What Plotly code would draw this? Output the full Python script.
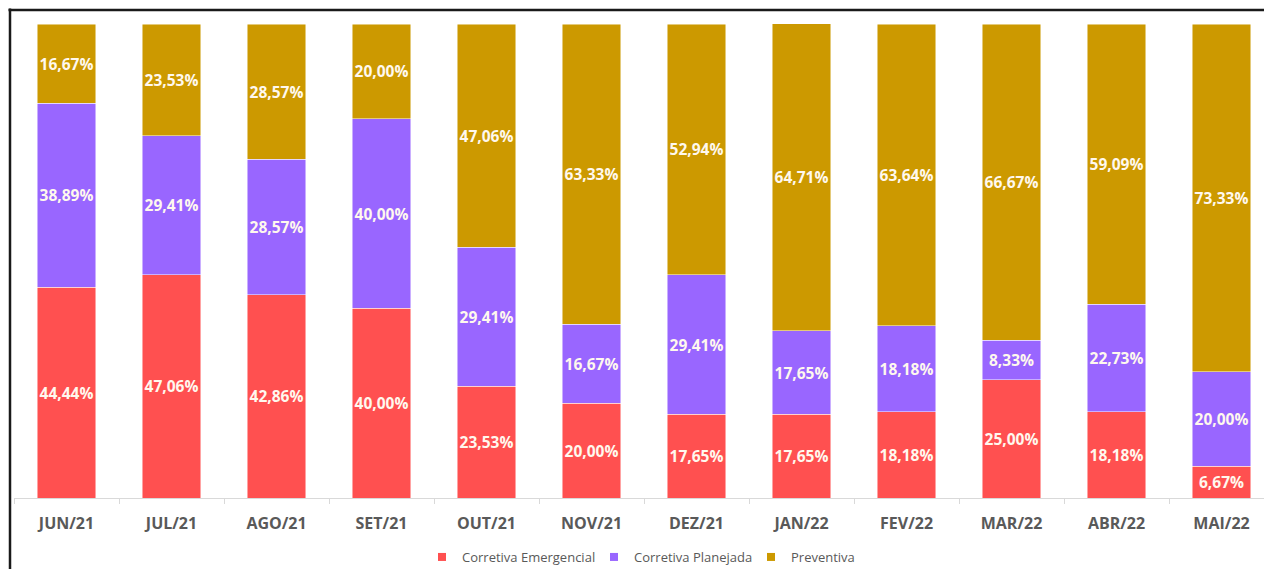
import plotly.graph_objects as go

months = ["JUN/21", "JUL/21", "AGO/21", "SET/21", "OUT/21", "NOV/21",
          "DEZ/21", "JAN/22", "FEV/22", "MAR/22", "ABR/22", "MAI/22"]
emergencial = [44.44, 47.06, 42.86, 40.00, 23.53, 20.00, 17.65, 17.65, 18.18, 25.00, 18.18, 6.67]
planejada = [38.89, 29.41, 28.57, 40.00, 29.41, 16.67, 29.41, 17.65, 18.18, 8.33, 22.73, 20.00]
preventiva = [16.67, 23.53, 28.57, 20.00, 47.06, 63.33, 52.94, 64.71, 63.64, 66.67, 59.09, 73.33]

series = [
    ("Corretiva Emergencial", emergencial, "#FF5050"),
    ("Corretiva Planejada", planejada, "#9966FF"),
    ("Preventiva", preventiva, "#CC9900"),
]

def fmt(v):
    return f"{v:.2f}".replace(".", ",") + "%"

PL, PW, PT, PB = 14, 1250, 24, 498  # plot-area pixel frame

def px_x(p):
    return (p - PL) / PW

def px_y(p):
    return (PB - p) / (PB - PT)

fig = go.Figure()
for name, vals, color in series:
    fig.add_trace(go.Bar(
        name=name, x=months, y=vals, showlegend=False,
        marker=dict(color=color, line=dict(color="rgba(255,255,255,0.6)", width=0.8)),
        text=[fmt(v) for v in vals],
        textposition="inside", insidetextanchor="middle", textangle=0,
        constraintext="none",
        textfont=dict(family="Open Sans", size=15.5, color="#FFF8EE", weight="bold"),
        width=0.56,
    ))

# one legend per entry so each swatch/text pair can sit where the reference has it
legend_ids = ["legend", "legend2", "legend3"]
legend_left_px = [422, 594, 751]
for (name, vals, color), lid in zip(series, legend_ids):
    fig.add_trace(go.Scatter(
        name=name, x=[None], y=[None], mode="markers",
        marker=dict(symbol="square", size=8, color=color),
        showlegend=True, hoverinfo="skip", legend=lid,
    ))

legend_common = dict(orientation="h", xanchor="left", yanchor="middle", y=px_y(557),
                     font=dict(family="Open Sans", size=13, color="#595959"),
                     itemwidth=30, bgcolor="rgba(0,0,0,0)")
layout_legends = {lid: dict(legend_common, x=px_x(lx)) for lid, lx in zip(legend_ids, legend_left_px)}

fig.update_layout(
    barmode="stack",
    width=1264, height=569,
    margin=dict(l=PL, r=0, t=PT, b=569 - PB, autoexpand=False),
    paper_bgcolor="white", plot_bgcolor="white",
    showlegend=True,
    xaxis=dict(range=[-0.5, -0.5 + PW / 105], showline=True, linecolor="#D9D9D9", linewidth=1,
               ticks="outside", tickson="boundaries", ticklen=5, tickcolor="#D9D9D9",
               tickfont=dict(family="Open Sans", size=16, color="#595959", weight="bold"),
               ticklabelstandoff=11, showgrid=False, fixedrange=True, automargin=False),
    yaxis=dict(range=[0, 100], visible=False, showgrid=False, automargin=False),
    shapes=[
        dict(type="line", xref="paper", yref="paper",
             x0=px_x(8.5), x1=px_x(1264), y0=px_y(10), y1=px_y(10),
             line=dict(color="#1a1a1a", width=2.5), layer="above"),
        dict(type="line", xref="paper", yref="paper",
             x0=px_x(10), x1=px_x(10), y0=px_y(8.5), y1=px_y(569),
             line=dict(color="#1a1a1a", width=2.5), layer="above"),
    ],
    **layout_legends,
)

fig.write_html("out.html")
